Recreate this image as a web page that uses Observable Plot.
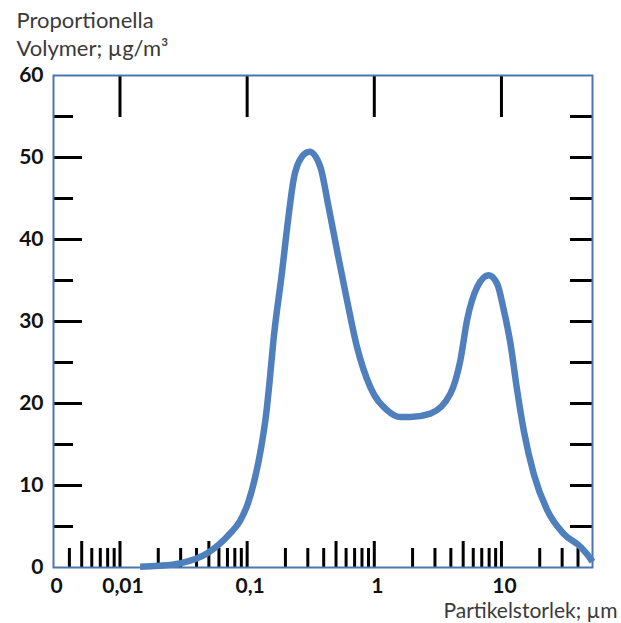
<!DOCTYPE html>
<html>
<head>
<meta charset="utf-8">
<script src="https://cdn.jsdelivr.net/npm/d3@7"></script>
<script src="https://cdn.jsdelivr.net/npm/@observablehq/plot@0.6"></script>
<style>
  html, body { margin: 0; padding: 0; background: #fff; }
  #chart { width: 621px; height: 623px; }
</style>
</head>
<body>
<div id="chart"></div>
<script>
// Particle size (µm) and volume concentration (µg/m³)
const sizes = [0.0144, 0.02, 0.0297, 0.0482, 0.0735, 0.0881, 0.1018, 0.1156, 0.1289, 0.1411, 0.1504, 0.161, 0.1876, 0.2114, 0.2315, 0.2696, 0.3094, 0.3757, 0.4367, 0.5085, 0.6096, 0.7307, 0.93, 1.259, 1.602, 1.92, 2.761, 3.967, 4.756, 5.37, 6.436, 7.943, 9.25, 10.43, 11.77, 13.29, 14.98, 17.96, 22.9, 30.9, 41.9, 50.2, 52];
const volume = [0.1, 0.2, 0.5, 1.7, 4.15, 5.7, 7.9, 11.0, 14.65, 18.7, 22.8, 27.7, 35.9, 42.8, 47.25, 50.1, 50.7, 48.9, 44.0, 38.7, 32.6, 26.9, 22.0, 19.2, 18.35, 18.35, 18.77, 21.2, 25.3, 30.2, 34.2, 35.65, 34.6, 31.4, 27.3, 21.6, 16.7, 11.4, 7.0, 4.1, 2.5, 1.06, 0.7];

// Axis tick labels
const xLabelValues = [0.003, 0.01, 0.1, 1, 10];
const xLabels = ["0", "0,01", "0,1", "1", "10"];
const yLabelValues = [0, 10, 20, 30, 40, 50, 60];

// Tick marks
const topTicks = [0.01, 0.1, 1, 10];
const bottomLongTicks = [0.005, 0.01, 0.05, 0.1, 0.5, 1, 5, 10];
const bottomShortTicks = [0.004, 0.006, 0.007, 0.008, 0.009, 0.02, 0.03, 0.04, 0.06, 0.07, 0.08, 0.09, 0.2, 0.3, 0.4, 0.6, 0.7, 0.8, 0.9, 2, 3, 4, 6, 7, 8, 9, 20, 30, 40];
const leftLongTicks = [10, 20, 30, 40, 50];
const leftShortTicks = [5, 15, 25, 35, 45, 55];
const rightTicks = [5, 10, 15, 20, 25, 30, 35, 40, 45, 50, 55];

// Texts
const titleLine1 = "Proportionella";
const titleLine2 = "Volymer; µg/m³";
const xTitle = "Partikelstorlek; µm";

const data = sizes.map((s, i) => ({size: s, vol: volume[i]}));
const xLabelData = xLabelValues.map((v, i) => ({v, t: xLabels[i]}));

const tickStyle = {stroke: "#000", strokeWidth: 3, tickFormat: () => "", label: null};

const chart = Plot.plot({
  width: 621,
  height: 623,
  marginLeft: 53,
  marginRight: 29,
  marginTop: 75,
  marginBottom: 56,
  style: {fontFamily: "Lato, sans-serif", background: "#fff", overflow: "visible"},
  x: {type: "log", domain: [0.003, 52], label: null, axis: null},
  y: {domain: [0, 60], label: null, axis: null},
  marks: [
    Plot.axisX(bottomShortTicks, {anchor: "bottom", tickSize: -19, ...tickStyle}),
    Plot.axisX(bottomLongTicks, {anchor: "bottom", tickSize: -26, ...tickStyle}),
    Plot.axisX(topTicks, {anchor: "top", tickSize: -41, ...tickStyle}),
    Plot.axisY(leftLongTicks, {anchor: "left", tickSize: -29, ...tickStyle}),
    Plot.axisY(leftShortTicks, {anchor: "left", tickSize: -20, ...tickStyle}),
    Plot.axisY(rightTicks, {anchor: "right", tickSize: -23, ...tickStyle}),
    Plot.text(xLabelData, {x: "v", text: "t", frameAnchor: "bottom", dy: 11, dx: 3, lineAnchor: "top",
      fontSize: 21, fontWeight: "bold", fill: "#111"}),
    Plot.text(yLabelValues, {y: d => d, text: d => String(d), frameAnchor: "left", dx: -10, textAnchor: "end",
      lineAnchor: "middle", fontSize: 21, fontWeight: "bold", fill: "#111"}),
    Plot.frame({stroke: "#4a77ad", strokeWidth: 2}),
    Plot.line(data, {x: "size", y: "vol", stroke: "#4f7fbd", strokeWidth: 6.5, curve: "monotone-x", strokeLinecap: "butt"}),
    Plot.text([titleLine1], {frameAnchor: "top-left", text: d => d, dx: -37, dy: -55, textAnchor: "start", lineAnchor: "middle", fontSize: 22, fill: "#3a3a3a"}),
    Plot.text([titleLine2], {frameAnchor: "top-left", text: d => d, dx: -37, dy: -27, textAnchor: "start", lineAnchor: "middle", fontSize: 22, fill: "#3a3a3a"}),
    Plot.text([xTitle], {frameAnchor: "bottom-right", text: d => d, dx: 25, dy: 44, textAnchor: "end", lineAnchor: "middle", fontSize: 21, fill: "#3a3a3a"})
  ]
});
document.getElementById("chart").append(chart);
</script>
</body>
</html>
